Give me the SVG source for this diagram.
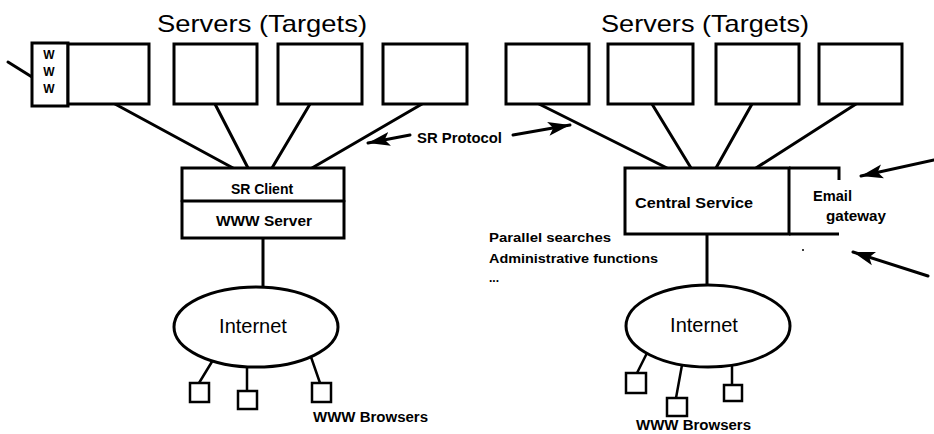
<svg xmlns="http://www.w3.org/2000/svg" width="934" height="434" viewBox="0 0 934 434">
<defs>
<style>
.box{fill:#fff;stroke:#000;stroke-width:3}
.sbox{fill:#fff;stroke:#000;stroke-width:2.5}
.ln{fill:none;stroke:#000;stroke-width:3;stroke-linecap:round}
.thin{fill:none;stroke:#000;stroke-width:2.5;stroke-linecap:round}
.title{font-family:"Liberation Sans",Arial,sans-serif;font-size:24px;fill:#000}
.lbl{font-family:"Liberation Sans",Arial,sans-serif;font-size:14px;font-weight:bold;fill:#000}
.net{font-family:"Liberation Sans",Arial,sans-serif;font-size:20px;fill:#000}
.sm{font-family:"Liberation Sans",Arial,sans-serif;font-size:12px;font-weight:bold;fill:#000}
</style>
<marker id="ah" markerUnits="userSpaceOnUse" markerWidth="24" markerHeight="16" refX="22" refY="8" orient="auto">
<path d="M0,1 L22,8 L0,15 L5,8 Z" fill="#000"/>
</marker>
</defs>
<rect width="934" height="434" fill="#fff"/>

<text class="title" x="157" y="32" textLength="210" lengthAdjust="spacingAndGlyphs">Servers (Targets)</text>
<text class="title" x="601" y="32" textLength="208" lengthAdjust="spacingAndGlyphs">Servers (Targets)</text>

<g id="connectors">
<line class="ln" x1="8" y1="62" x2="32" y2="77"/>
<line class="ln" x1="115" y1="104" x2="233" y2="168"/>
<line class="ln" x1="215" y1="104" x2="248" y2="168"/>
<line class="ln" x1="310" y1="104" x2="272" y2="168"/>
<line class="ln" x1="422" y1="104" x2="312" y2="168"/>
<line class="ln" x1="539" y1="104" x2="667" y2="168"/>
<line class="ln" x1="652" y1="104" x2="691" y2="168"/>
<line class="ln" x1="752" y1="104" x2="716" y2="168"/>
<line class="ln" x1="856" y1="104" x2="756" y2="168"/>
<line class="ln" x1="263" y1="238" x2="263" y2="288"/>
<line class="ln" x1="707" y1="234" x2="707" y2="285"/>
<line class="thin" x1="213" y1="360" x2="199" y2="383"/>
<line class="thin" x1="247" y1="367" x2="247" y2="391"/>
<line class="thin" x1="311" y1="357" x2="320" y2="383"/>
<line class="thin" x1="647" y1="353" x2="637" y2="373"/>
<line class="thin" x1="682" y1="365" x2="676" y2="398"/>
<line class="thin" x1="732" y1="365" x2="732" y2="385"/>
<line class="ln" x1="410" y1="135" x2="368" y2="143" marker-end="url(#ah)"/>
<line class="ln" x1="513" y1="135" x2="570" y2="125" marker-end="url(#ah)"/>
<line class="ln" x1="934" y1="160" x2="861" y2="176" marker-end="url(#ah)"/>
<line class="ln" x1="928" y1="276" x2="853" y2="252" marker-end="url(#ah)"/>
</g>

<g id="www-tag">
<rect class="box" x="32" y="43" width="36" height="63"/>
<text class="sm" x="49" y="59" text-anchor="middle">W</text>
<text class="sm" x="49" y="76" text-anchor="middle">W</text>
<text class="sm" x="49" y="93" text-anchor="middle">W</text>
</g>
<g id="server-l1"><rect class="box" x="68" y="44" width="81" height="60"/></g>
<g id="server-l2"><rect class="box" x="174" y="44" width="83" height="60"/></g>
<g id="server-l3"><rect class="box" x="278" y="44" width="84" height="60"/></g>
<g id="server-l4"><rect class="box" x="383" y="44" width="84" height="60"/></g>
<g id="server-r1"><rect class="box" x="506" y="44" width="83" height="60"/></g>
<g id="server-r2"><rect class="box" x="608" y="44" width="85" height="60"/></g>
<g id="server-r3"><rect class="box" x="716" y="44" width="83" height="60"/></g>
<g id="server-r4"><rect class="box" x="819" y="44" width="83" height="60"/></g>

<g id="sr-client">
<rect class="box" x="182" y="168" width="162" height="70"/>
<line class="ln" x1="182" y1="201" x2="344" y2="201"/>
<text class="lbl" x="262" y="194" text-anchor="middle">SR Client</text>
<text class="lbl" x="264" y="226" text-anchor="middle" textLength="96" lengthAdjust="spacingAndGlyphs">WWW Server</text>
</g>

<g id="central-service">
<rect class="box" x="625" y="168" width="164" height="66"/>
<path class="box" d="M789,168 H839 V180 M789,234 H839" fill="none"/>
<text class="lbl" x="694" y="208" text-anchor="middle" textLength="118" lengthAdjust="spacingAndGlyphs">Central Service</text>
<text class="lbl" x="813" y="201" textLength="39" lengthAdjust="spacingAndGlyphs">Email</text>
<text class="lbl" x="826" y="221" textLength="60" lengthAdjust="spacingAndGlyphs">gateway</text>
</g>

<g id="sr-protocol">
<text class="lbl" x="417" y="143" textLength="85" lengthAdjust="spacingAndGlyphs">SR Protocol</text>
</g>

<g id="notes">
<text class="sm" x="489" y="242" textLength="122" lengthAdjust="spacingAndGlyphs">Parallel searches</text>
<text class="sm" x="489" y="263" textLength="169" lengthAdjust="spacingAndGlyphs">Administrative functions</text>
<text class="sm" x="489" y="282">...</text>
<circle cx="803" cy="250" r="1" fill="#000"/>
</g>

<g id="internet-l">
<ellipse class="box" cx="256" cy="327" rx="82" ry="40"/>
<text class="net" x="253" y="333" text-anchor="middle">Internet</text>
</g>
<g id="internet-r">
<ellipse class="box" cx="708" cy="326" rx="82" ry="41"/>
<text class="net" x="704" y="332" text-anchor="middle">Internet</text>
</g>

<g id="browsers-l">
<rect class="sbox" x="190" y="383" width="19" height="19"/>
<rect class="sbox" x="238" y="391" width="19" height="18"/>
<rect class="sbox" x="312" y="383" width="19" height="19"/>
<text class="lbl" x="313" y="422" textLength="115" lengthAdjust="spacingAndGlyphs">WWW Browsers</text>
</g>
<g id="browsers-r">
<rect class="sbox" x="626" y="373" width="20" height="20"/>
<rect class="sbox" x="667" y="398" width="20" height="18"/>
<rect class="sbox" x="724" y="385" width="18" height="16"/>
<text class="lbl" x="636" y="430" textLength="115" lengthAdjust="spacingAndGlyphs">WWW Browsers</text>
</g>
</svg>
